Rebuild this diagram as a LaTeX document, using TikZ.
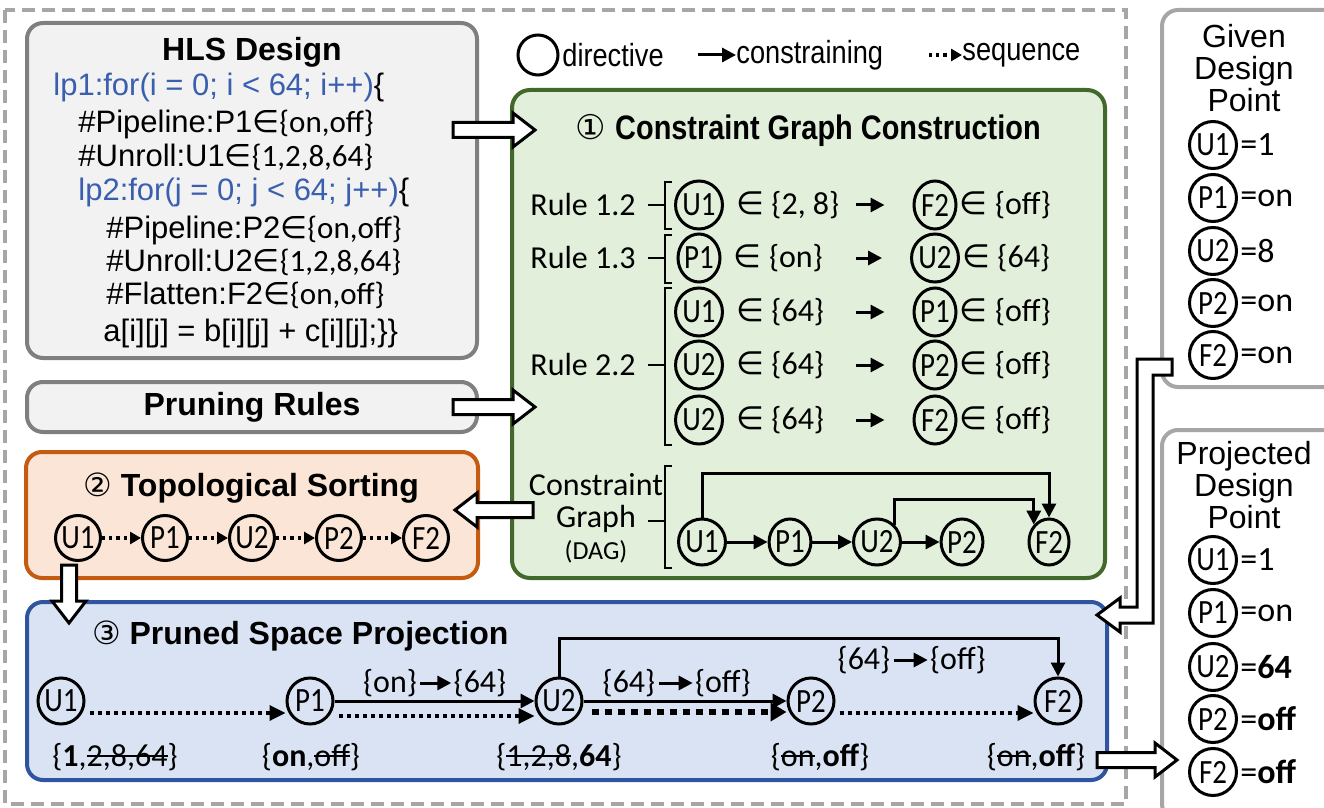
\documentclass[tikz,border=0pt]{standalone}
\usepackage{fontspec}
\usetikzlibrary{arrows.meta, calc, positioning, shapes.geometric}
\setmainfont{Liberation Sans}
\newfontfamily\calfont{Carlito}
\newfontfamily\narrowfont{Liberation Sans}[FakeStretch=0.85]
\newfontfamily\narrowcal{Carlito}[FakeStretch=0.85]
\newfontfamily\circfont{DejaVu Sans}
\newcommand{\fsz}[1]{\fontsize{#1}{#1}\selectfont}
\newcommand{\elem}{{\circfont ∈}}
\newsavebox{\strkbox}
\newcommand{\strk}[1]{\sbox\strkbox{#1}\rlap{\rule[0.3em]{\wd\strkbox}{1pt}}\usebox\strkbox}

\definecolor{outergray}{HTML}{A6A6A6}
\definecolor{boxgray}{HTML}{7F7F7F}
\definecolor{boxfill}{HTML}{F2F2F2}
\definecolor{grnline}{HTML}{43682B}
\definecolor{grnfill}{HTML}{E2EFDA}
\definecolor{orgline}{HTML}{C55A11}
\definecolor{orgfill}{HTML}{FBE5D6}
\definecolor{bluline}{HTML}{2F55A0}
\definecolor{blufill}{HTML}{DAE3F3}
\definecolor{codeblue}{HTML}{3A5FAE}

\tikzset{
  panel/.style={draw, line width=2pt, rounded corners=8pt, inner sep=0pt},
  ttl/.style={font=\fsz{16}\bfseries},
  codeline/.style={anchor=base west, inner sep=0pt, font=\fsz{15.5}},
  rtxt/.style={inner sep=0pt, font=\calfont\fsz{16}},
  lbl/.style={inner sep=0pt, font=\calfont\fsz{16}},
  legtxt/.style={anchor=west, inner sep=0pt, font=\narrowfont\fsz{16}},
  dirnode/.style={ellipse, draw, line width=1.5pt, inner sep=0pt,
    minimum width=21pt, minimum height=24pt, font=\narrowcal\fsz{17}},
  dagnode/.style={dirnode, minimum width=20pt, minimum height=23pt},
  pcirc/.style={circle, draw, line width=1.5pt, inner sep=0pt,
    minimum size=23pt, font=\narrowcal\fsz{17}},
  gcirc/.style={pcirc, minimum size=23.5pt},
  gval/.style={inner sep=0pt, font=\calfont\fsz{17}},
  cons/.style={line width=1.5pt, -{Triangle[length=7pt,width=7pt]}},
  labarrow/.style={cons, shorten <=1.5pt, shorten >=1pt},
  seq/.style={line width=1.7pt, dash pattern=on 2pt off 2pt, shorten <=2pt,
    -{Triangle[length=8pt,width=7.5pt]}},
  seqthick/.style={line width=3.2pt, dash pattern=on 3.5pt off 3pt, shorten <=4pt,
    -{Triangle[length=8pt,width=9pt]}},
  tseq/.style={line width=1.6pt, dash pattern=on 1.6pt off 2pt,
    -{Triangle[length=5.5pt,width=6pt]}},
  brk/.style={line width=1pt},
  blk/.style={draw, line width=1.5pt, fill=white, line join=miter},
}

% white block arrow from #1 to #2
\newcommand{\blockarrow}[2]{%
  \coordinate (bah) at ($(#2)!11pt!(#1)$);
  \draw[blk] ($(#1)!3.75pt!90:(#2)$) -- ($(bah)!3.75pt!-90:(#1)$)
    -- ($(bah)!8.5pt!-90:(#1)$) -- (#2) -- ($(bah)!8.5pt!90:(#1)$)
    -- ($(bah)!3.75pt!90:(#1)$) -- ($(#1)!3.75pt!-90:(#2)$) -- cycle;}

\begin{document}
\begin{tikzpicture}[x=0.5pt, y=-0.5pt]
\clip (0,0) rectangle (1324,808);

% Outer frame
\draw[outergray, line width=2pt, dash pattern=on 6.5pt off 3.5pt] (5,10) rectangle (1126,804);

% HLS design
\node[panel, draw=boxgray, fill=boxfill, minimum width=225pt, minimum height=167.5pt] (hls) at (252,190.5) {};
\node[ttl] (hlst) at (252,52) {HLS Design};
\node[codeline] (c1) at (53,96) {\textcolor{codeblue}{lp1:for(i = 0; i < 64; i++)}\{};
\node[codeline] (c2) at (78,133) {\#Pipeline:P1\elem{\calfont\{on,off\}}};
\node[codeline] (c3) at (78,167) {\#Unroll:U1\elem{\calfont\{1,2,8,64\}}};
\node[codeline] (c4) at (78,201) {\textcolor{codeblue}{lp2:for(j = 0; j < 64; j++)}\{};
\node[codeline] (c5) at (106,238) {\#Pipeline:P2\elem{\calfont\{on,off\}}};
\node[codeline] (c6) at (106,271) {\#Unroll:U2\elem{\calfont\{1,2,8,64\}}};
\node[codeline] (c7) at (106,304) {\#Flatten:F2\elem{\calfont\{on,off\}}};
\node[codeline] (c8) at (103,341) {a[i][j] = b[i][j] + c[i][j];\}\}};

% Pruning rules
\node[panel, draw=boxgray, fill=boxfill, minimum width=225pt, minimum height=25pt, ttl] (prune) at (252,407) {Pruning Rules};

% Legend
\node[pcirc, minimum size=20pt] (lgd) at (538,55) {};
\node[legtxt] (lgdt) at (562,55) {directive};
\coordinate (lgc0) at (698,55);
\node[legtxt] (lgct) at (736,55) {constraining};
\draw[cons] (lgc0) -- (lgct.west);
\coordinate (lgs0) at (929,55);
\node[legtxt] (lgst) at (962,55) {sequence};
\draw[tseq] (lgs0) -- (lgst.west);

% Stage 1: constraint graph
\node[panel, draw=grnline, fill=grnfill, rounded corners=9pt, minimum width=296.5pt, minimum height=244pt] (grn) at (808.5,334) {};
\node[font=\fsz{17}] (grnt) at (808,130) {{\circfont ①} \narrowfont\bfseries Constraint Graph Construction};

\node[rtxt, anchor=west] (rl1) at (530,205) {Rule 1.2};
\node[rtxt, anchor=west] (rl2) at (530,258) {Rule 1.3};
\node[rtxt, anchor=west] (rl3) at (530,365) {Rule 2.2};
\draw[brk] (672,182) -- (665,182) -- (665,229) -- (672,229);
\draw[brk] (648,205) -- (665,205);
\draw[brk] (672,235) -- (665,235) -- (665,283) -- (672,283);
\draw[brk] (648,258) -- (665,258);
\draw[brk] (672,288) -- (665,288) -- (665,445) -- (672,445);
\draw[brk] (648,365) -- (665,365);

\node[dirnode] (ra1) at (699,205) {U1};
\node[rtxt, right=6pt of ra1] (sa1) {\elem\ \{2, 8\}};
\node[dirnode] (rb1) at (935,205) {F2};
\node[rtxt, right=1pt of rb1] (sb1) {\elem\ \{off\}};
\coordinate (aa1) at (856,205);
\draw[cons] (aa1) -- ([xshift=-14pt]rb1.west);

\node[dirnode] (ra2) at (699,258) {P1};
\node[rtxt, right=6pt of ra2] (sa2) {\elem\ \{on\}};
\node[dirnode] (rb2) at (935,258) {U2};
\node[rtxt, right=1pt of rb2] (sb2) {\elem\ \{64\}};
\coordinate (aa2) at (856,258);
\draw[cons] (aa2) -- ([xshift=-14pt]rb2.west);

\node[dirnode] (ra3) at (699,312) {U1};
\node[rtxt, right=6pt of ra3] (sa3) {\elem\ \{64\}};
\node[dirnode] (rb3) at (935,312) {P1};
\node[rtxt, right=1pt of rb3] (sb3) {\elem\ \{off\}};
\coordinate (aa3) at (856,312);
\draw[cons] (aa3) -- ([xshift=-14pt]rb3.west);

\node[dirnode] (ra4) at (699,365) {U2};
\node[rtxt, right=6pt of ra4] (sa4) {\elem\ \{64\}};
\node[dirnode] (rb4) at (935,365) {P2};
\node[rtxt, right=1pt of rb4] (sb4) {\elem\ \{off\}};
\coordinate (aa4) at (856,365);
\draw[cons] (aa4) -- ([xshift=-14pt]rb4.west);

\node[dirnode] (ra5) at (699,420) {U2};
\node[rtxt, right=6pt of ra5] (sa5) {\elem\ \{64\}};
\node[dirnode] (rb5) at (935,420) {F2};
\node[rtxt, right=1pt of rb5] (sb5) {\elem\ \{off\}};
\coordinate (aa5) at (856,420);
\draw[cons] (aa5) -- ([xshift=-14pt]rb5.west);

% DAG
\node[rtxt, align=center] (dagl) at (596,518) {Constraint\\Graph\\{\fsz{13}(DAG)}};
\draw[brk] (672,466) -- (665,466) -- (665,568) -- (672,568);
\draw[brk] (648,521) -- (665,521);
\node[dagnode] (g1) at (702,542) {U1};
\node[dagnode] (g2) at (790,542) {P1};
\node[dagnode] (g3) at (877,542) {U2};
\node[dagnode] (g4) at (962,542) {P2};
\node[dagnode] (g5) at (1049,542) {F2};
\draw[cons] (g1) -- (g2);
\draw[cons] (g2) -- (g3);
\draw[cons] (g3) -- (g4);
\draw[cons] (g1.north) -- (g1.north |- 0,473) -| (g5.north);
\draw[cons] (g3.north east) -- (g3.north east |- 0,499) -| (g5.north west);

% Stage 2: topological sorting
\node[panel, draw=orgline, fill=orgfill, minimum width=226pt, minimum height=63pt] (topo) at (252,515) {};
\node[ttl] (topot) at (251,488) {{\circfont\mdseries ②} Topological Sorting};
\node[pcirc, minimum size=22.5pt] (o1) at (78,538) {U1};
\node[pcirc, minimum size=22.5pt] (o2) at (165,538) {P1};
\node[pcirc, minimum size=22.5pt] (o3) at (252,538) {U2};
\node[pcirc, minimum size=22.5pt] (o4) at (339,538) {P2};
\node[pcirc, minimum size=22.5pt] (o5) at (426,538) {F2};
\draw[tseq] (o1) -- (o2);
\draw[tseq] (o2) -- (o3);
\draw[tseq] (o3) -- (o4);
\draw[tseq] (o4) -- (o5);

% Stage 3: pruned space projection
\node[panel, draw=bluline, fill=blufill, minimum width=540pt, minimum height=89pt] (prj) at (567,691) {};
\node[ttl, anchor=west] (prjt) at (85,636) {{\circfont\mdseries ③} Pruned Space Projection};
\node[pcirc] (pu1) at (61,701) {U1};
\node[pcirc] (pp1) at (310,701) {P1};
\node[pcirc] (pu2) at (559,701) {U2};
\node[pcirc] (pp2) at (811,701) {P2};
\node[pcirc] (pf2) at (1058,701) {F2};
\draw[seq] ([yshift=-6pt]pu1.east) -- ([yshift=-6pt]pp1.west);
\draw[cons] (pp1) -- (pu2);
\draw[seq] ([yshift=-7.5pt]pp1.east) -- ([yshift=-7.5pt]pu2.west);
\draw[cons] (pu2) -- (pp2);
\draw[seqthick] ([yshift=-5.5pt]pu2.east) -- ([yshift=-5.5pt]pp2.west);
\draw[seq] ([yshift=-6pt]pp2.east) -- ([yshift=-6pt]pf2.west);
\draw[cons] (pu2.north) -- (pu2.north |- 0,638) -| (pf2.north);

\node[lbl] (e1a) at (390,683) {\{on\}};
\node[lbl, right=18pt of e1a] (e1b) {\{64\}};
\draw[labarrow] (e1a) -- (e1b);
\node[lbl] (e2a) at (629,683) {\{64\}};
\node[lbl, right=19.5pt of e2a] (e2b) {\{off\}};
\draw[labarrow] (e2a) -- (e2b);
\node[lbl] (e3a) at (864,660) {\{64\}};
\node[lbl, right=19.5pt of e3a] (e3b) {\{off\}};
\draw[labarrow] (e3a) -- (e3b);

\node[lbl] (vu1) at (115,757) {\{\textbf{1},\strk{2,8,64}\}};
\node[lbl] (vp1) at (311,757) {\{\textbf{on},\strk{off}\}};
\node[lbl] (vu2) at (559,757) {\{\strk{1,2,8},\textbf{64}\}};
\node[lbl] (vp2) at (820,757) {\{\strk{on},\textbf{off}\}};
\node[lbl] (vf2) at (1036,757) {\{\strk{on},\textbf{off}\}};

% Given design point
\node[panel, draw=outergray, fill=white, minimum width=89pt, minimum height=188.5pt] (given) at (1251,198.5) {};
\node[align=center, font=\fsz{16}] (givent) at (1244,68) {Given\\Design\\Point};
\node[gcirc] (gu1) at (1213,145) {U1};
\node[gval, right=1pt of gu1] (gv1) {=1};
\node[gcirc] (gp1) at (1213,198) {P1};
\node[gval, right=1pt of gp1] (gv2) {=on};
\node[gcirc] (gu2) at (1213,251) {U2};
\node[gval, right=1pt of gu2] (gv3) {=8};
\node[gcirc] (gp2) at (1213,303) {P2};
\node[gval, right=1pt of gp2] (gv4) {=on};
\node[gcirc] (gf2) at (1213,355) {F2};
\node[gval, right=1pt of gf2] (gv5) {=on};

% Projected design point
\node[panel, draw=outergray, fill=white, minimum width=89pt, minimum height=195pt] (proj) at (1251,625) {};
\node[align=center, font=\fsz{16}] (projt) at (1244,485) {Projected\\Design\\Point};
\node[gcirc] (qu1) at (1213,560) {U1};
\node[gval, right=1pt of qu1] (qv1) {=1};
\node[gcirc] (qp1) at (1213,613) {P1};
\node[gval, right=1pt of qp1] (qv2) {=on};
\node[gcirc] (qu2) at (1213,667) {U2};
\node[gval, right=1pt of qu2] (qv3) {=\textbf{64}};
\node[gcirc] (qp2) at (1213,719) {P2};
\node[gval, right=1pt of qp2] (qv4) {=\textbf{off}};
\node[gcirc] (qf2) at (1213,772) {F2};
\node[gval, right=1pt of qf2] (qv5) {=\textbf{off}};

% Block arrows
\coordinate (b1s) at (453,130);
\coordinate (b1e) at (535,130);
\blockarrow{b1s}{b1e}
\coordinate (b2s) at (453,407);
\coordinate (b2e) at (535,407);
\blockarrow{b2s}{b2e}
\coordinate (b3s) at (533,510);
\coordinate (b3e) at (455,510);
\blockarrow{b3s}{b3e}
\coordinate (b4s) at (69,565);
\coordinate (b4e) at (69,623);
\blockarrow{b4s}{b4e}
\coordinate (b5s) at (1097,760);
\coordinate (b5e) at (1177,760);
\blockarrow{b5s}{b5e}
\draw[blk] (1172,359) -- (1137,359) -- (1137,607) -- (1120,607) -- (1120,598)
  -- (1097,615) -- (1120,632) -- (1120,623) -- (1153,623) -- (1153,375)
  -- (1172,375) -- cycle;
\end{tikzpicture}
\end{document}
